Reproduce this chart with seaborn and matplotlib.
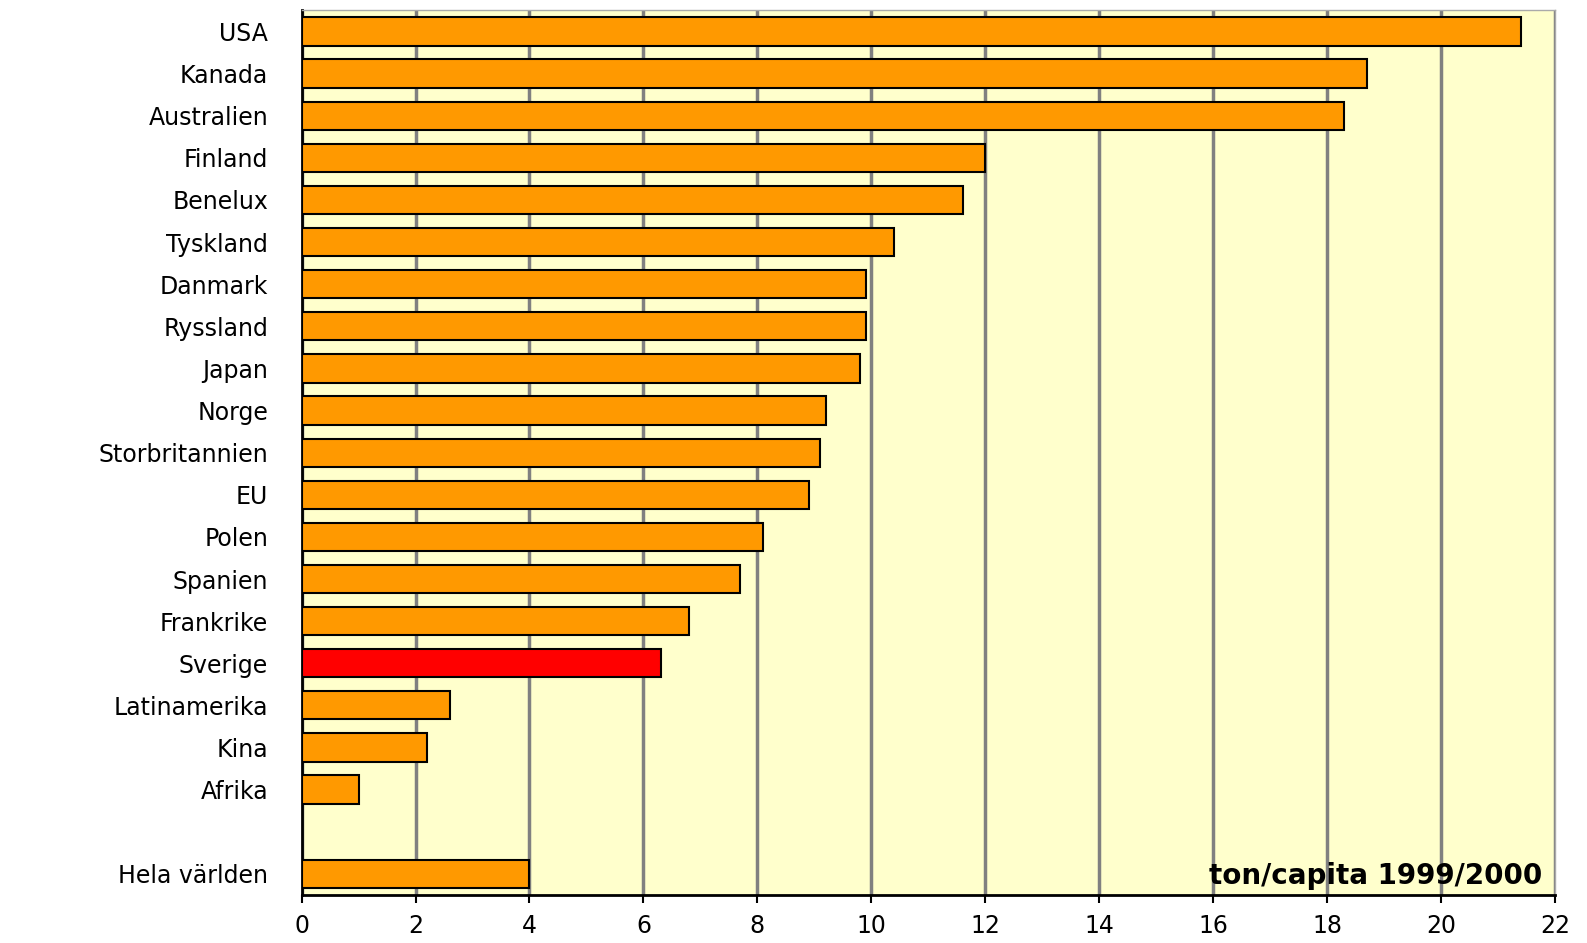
import numpy as np
import pandas as pd
import seaborn as sns
import matplotlib.pyplot as plt

# data (ton CO2 per capita)
countries = [
    "USA", "Kanada", "Australien", "Finland", "Benelux", "Tyskland",
    "Danmark", "Ryssland", "Japan", "Norge", "Storbritannien", "EU",
    "Polen", "Spanien", "Frankrike", "Sverige", "Latinamerika", "Kina",
    "Afrika", "Hela världen"
]
values = [
    21.4, 18.7, 18.3, 12.0, 11.6, 10.4,
    9.9, 9.9, 9.8, 9.2, 9.1, 8.9,
    8.1, 7.7, 6.8, 6.3, 2.6, 2.2,
    1.0, 4.0
]
# empty slot between Afrika and Hela världen
order = countries[:-1] + [" "] + countries[-1:]
xticks = list(range(0, 23, 2))

data = pd.DataFrame({"Land": countries, "Ton": values})
colors = {c: "#FF9900" for c in countries}
colors["Sverige"] = "#FF0000"

sns.set_style("white")
plt.rcParams["font.family"] = ["DejaVu Sans"]
plt.rcParams["text.color"] = "black"
plt.rcParams["xtick.color"] = "black"
plt.rcParams["ytick.color"] = "black"

fig = plt.figure(figsize=(15.87, 9.43), dpi=100)
ax = fig.add_axes([0.19, 0.051, 0.79, 0.938])
ax.set_facecolor("#FFFFCC")

sns.barplot(
    x="Ton",
    y="Land",
    data=data,
    order=order,
    hue="Land",
    palette=colors,
    legend=False,
    width=0.67,
    edgecolor="black",
    linewidth=1.5,
    saturation=1,
    ax=ax,
    zorder=3
)

ax.set_xlim(0, 22)
ax.set_xticks(xticks)
ax.xaxis.grid(True, color="#808080", linewidth=2.5, zorder=0)
ax.set_axisbelow(True)
ax.set_xlabel("")
ax.set_ylabel("")
ax.tick_params(axis="x", labelsize=17, length=6, width=1.5, color="black", pad=8, direction="out", bottom=True)
ax.tick_params(axis="y", labelsize=17, length=0, pad=24)

for side in ["left", "bottom"]:
    ax.spines[side].set_color("black")
    ax.spines[side].set_linewidth(2)
for side in ["top", "right"]:
    ax.spines[side].set_color("#AAAAAA")
    ax.spines[side].set_linewidth(1)

ax.text(0.99, 0.006, "ton/capita 1999/2000", transform=ax.transAxes,
        ha="right", va="bottom", fontsize=20, fontweight="bold", zorder=5)

plt.savefig("out.png", dpi=100)
